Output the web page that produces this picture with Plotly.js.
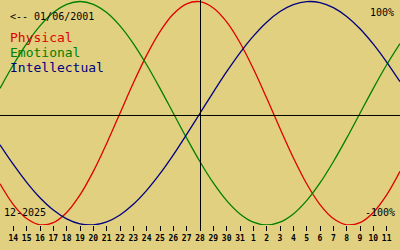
<!DOCTYPE html>
<html>
<head>
<meta charset="utf-8">
<script src="https://cdn.plot.ly/plotly-3.0.1.min.js"></script>
<style>
  html, body { margin: 0; padding: 0; background: #e0d080; }
  #chart { width: 400px; height: 250px; }
</style>
</head>
<body>
<div id="chart"></div>
<script>
// Day index (13 = 13 Dec 2025 ... 43 = 12 Jan 2026)
var days = [13,14,15,16,17,18,19,20,21,22,23,24,25,26,27,28,29,30,31,32,33,34,35,36,37,38,39,40,41,42,43];
var tickDays = [14,15,16,17,18,19,20,21,22,23,24,25,26,27,28,29,30,31,32,33,34,35,36,37,38,39,40,41,42];
var tickLabels = ["14","15","16","17","18","19","20","21","22","23","24","25","26","27","28","29","30","31","1","2","3","4","5","6","7","8","9","10","11"];

var physical = [-0.631,-0.817,-0.942,-0.998,-0.979,-0.888,-0.731,-0.520,-0.270,0.000,0.270,0.520,0.731,0.888,0.979,0.998,0.942,0.817,0.631,0.398,0.136,-0.136,-0.398,-0.631,-0.817,-0.942,-0.998,-0.979,-0.888,-0.731,-0.520];
var emotional = [0.223,0.434,0.624,0.782,0.901,0.975,1.000,0.975,0.901,0.782,0.624,0.434,0.223,0.000,-0.223,-0.434,-0.624,-0.782,-0.901,-0.975,-1.000,-0.975,-0.901,-0.782,-0.624,-0.434,-0.223,0.000,0.223,0.434,0.624];
var intellectual = [-0.282,-0.458,-0.618,-0.756,-0.866,-0.945,-0.990,-0.999,-0.972,-0.910,-0.815,-0.690,-0.541,-0.372,-0.189,0.000,0.189,0.372,0.541,0.690,0.815,0.910,0.972,0.999,0.990,0.945,0.866,0.756,0.618,0.458,0.282];

var seriesNames = ["Physical","Emotional","Intellectual"];
var birthLabel = "<-- 01/06/2001";
var monthLabel = "12-2025";
var topLabel = "100%";
var bottomLabel = "-100%";
var todayDay = 28;

var bg = "#e0d080";
var colors = ["#e00000","#008000","#000080"];
var mono = "DejaVu Sans Mono, monospace";

var H = 225; // plot-area height in px
function py(pix) { return (H - pix) / H; }
function px(pix) { return pix / 400; }

var traces = [physical, emotional, intellectual].map(function (vals, i) {
  return {
    x: days, y: vals, type: "scatter", mode: "lines", name: seriesNames[i],
    line: { color: colors[i], width: 1.3, shape: "spline", smoothing: 1 },
    hoverinfo: "skip"
  };
});

var annotations = [
  { text: birthLabel, x: px(8), y: py(16.5), color: "#000000", size: 10 },
  { text: seriesNames[0], x: px(8), y: py(38), color: colors[0], size: 13 },
  { text: seriesNames[1], x: px(8), y: py(53), color: colors[1], size: 13 },
  { text: seriesNames[2], x: px(8), y: py(68), color: colors[2], size: 13 },
  { text: monthLabel, x: px(2), y: py(212.5), color: "#000000", size: 10 },
  { text: topLabel, x: px(368), y: py(12), color: "#000000", size: 10 },
  { text: bottomLabel, x: px(363), y: py(212.5), color: "#000000", size: 10 }
].map(function (a) {
  return {
    text: a.text, xref: "paper", yref: "paper", x: a.x, y: a.y,
    xanchor: "left", yanchor: "middle", showarrow: false,
    font: { family: mono, size: a.size, color: a.color }
  };
});

var layout = {
  width: 400, height: 250,
  margin: { l: 0, r: 0, t: 0, b: 25, pad: 0 },
  paper_bgcolor: bg, plot_bgcolor: bg,
  showlegend: false,
  xaxis: {
    range: [13, 43], showgrid: false, zeroline: false, showline: false,
    tickmode: "array", tickvals: tickDays, ticktext: tickLabels, tickangle: 0,
    ticks: "outside", ticklen: 5, tickwidth: 1, tickcolor: "#000000",
    tickfont: { family: mono, size: 8, color: "#000000", weight: "bold" },
    fixedrange: true
  },
  yaxis: {
    range: [-1.0, 1.0134], visible: false, fixedrange: true
  },
  shapes: [
    { type: "line", xref: "paper", yref: "y", x0: 0, x1: 1, y0: -0.0201, y1: -0.0201,
      line: { color: "#000000", width: 1 } },
    { type: "line", xref: "x", yref: "paper", x0: todayDay + 0.0375, x1: todayDay + 0.0375, y0: py(228), y1: 1,
      line: { color: "#000000", width: 1 } }
  ],
  annotations: annotations
};

Plotly.newPlot("chart", traces, layout, { displayModeBar: false, staticPlot: true });
</script>
</body>
</html>
